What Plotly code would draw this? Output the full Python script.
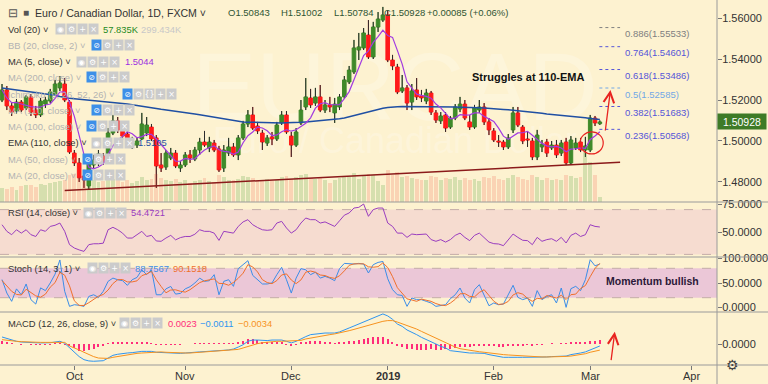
import pandas as pd
import plotly.graph_objects as go

# ---------------- data ----------------
holidays = ["2018-12-25", "2019-01-01"]
calendar = [d for d in pd.bdate_range("2018-09-10", "2019-04-30")
            if d.strftime("%Y-%m-%d") not in holidays]
idx = {d.strftime("%Y-%m-%d"): i for i, d in enumerate(calendar)}

open_ = [1.5200,1.5249,1.5171,1.5146,1.5190,1.5161,1.5215,1.5151,1.5127,1.5180,
         1.5195,1.5229,1.5259,1.5278,1.5190,1.4941,1.4893,1.4829,1.4781,1.4883,
         1.4893,1.4927,1.4907,1.5039,1.5098,1.5054,1.5034,1.4976,1.4980,1.5010,
         1.5039,1.5068,1.5015,1.4883,1.4873,1.4917,1.4941,1.4868,1.4883,1.4932,
         1.4912,1.4956,1.4995,1.4966,1.4990,1.4961,1.4868,1.4941,1.4971,1.4932,
         1.5015,1.5083,1.5127,1.5073,1.5039,1.4990,1.5020,1.5010,1.5088,1.5127,
         1.5024,1.4980,1.5088,1.5166,1.5210,1.5185,1.5215,1.5151,1.5176,1.5137,
         1.5166,1.5215,1.5288,1.5337,1.5444,1.5454,1.5517,1.5410,1.5556,1.5590,
         1.5615,1.5395,1.5361,1.5244,1.5259,1.5190,1.5249,1.5220,1.5195,1.5234,
         1.5137,1.5098,1.5127,1.5068,1.5112,1.5156,1.5180,1.5093,1.5068,1.5151,
         1.5166,1.5093,1.5049,1.5000,1.4995,1.4971,1.5054,1.5137,1.5068,1.5010,
         1.5000,1.4922,1.4971,1.4995,1.4966,1.4980,1.4941,1.4995,1.4893,1.4966,
         1.4995,1.4956,1.4956,1.5112,1.50843]
high = [1.5278,1.5268,1.5185,1.5205,1.5200,1.5224,1.5229,1.5171,1.5210,1.5215,
        1.5254,1.5298,1.5317,1.5307,1.5200,1.4956,1.4917,1.4859,1.4907,1.4932,
        1.4956,1.4941,1.5063,1.5127,1.5117,1.5068,1.5059,1.5020,1.5015,1.5137,
        1.5117,1.5083,1.5029,1.4941,1.4956,1.4966,1.4956,1.4902,1.4946,1.4956,
        1.4971,1.5015,1.5049,1.5020,1.5005,1.4976,1.4980,1.5015,1.4990,1.5029,
        1.5098,1.5151,1.5166,1.5093,1.5054,1.5029,1.5044,1.5093,1.5146,1.5146,
        1.5044,1.5063,1.5200,1.5307,1.5254,1.5259,1.5273,1.5200,1.5215,1.5210,
        1.5229,1.5317,1.5366,1.5493,1.5527,1.5551,1.5590,1.5581,1.5629,1.5654,
        1.5639,1.5420,1.5376,1.5322,1.5273,1.5278,1.5307,1.5249,1.5254,1.5244,
        1.5151,1.5141,1.5141,1.5122,1.5180,1.5215,1.5200,1.5127,1.5176,1.5200,
        1.5185,1.5112,1.5063,1.5029,1.5005,1.5034,1.5166,1.5166,1.5078,1.5044,
        1.5015,1.5054,1.5005,1.5010,1.5000,1.5005,1.5005,1.5015,1.5024,1.5015,
        1.5015,1.5020,1.5127,1.5122,1.51002]
low = [1.5190,1.5151,1.5122,1.5132,1.5141,1.5151,1.5122,1.5112,1.5117,1.5161,
       1.5185,1.5220,1.5244,1.5190,1.4937,1.4878,1.4800,1.4771,1.4766,1.4868,
       1.4878,1.4883,1.4898,1.5029,1.5039,1.5005,1.4995,1.4961,1.4966,1.5005,
       1.5024,1.5000,1.4771,1.4849,1.4859,1.4907,1.4868,1.4849,1.4873,1.4893,
       1.4902,1.4932,1.4971,1.4946,1.4946,1.4849,1.4849,1.4927,1.4922,1.4907,
       1.5005,1.5068,1.5054,1.5034,1.4956,1.4976,1.4980,1.5000,1.5078,1.5034,
       1.4922,1.4971,1.5078,1.5151,1.5161,1.5171,1.5141,1.5137,1.5141,1.5088,
       1.5151,1.5205,1.5278,1.5327,1.5395,1.5444,1.5400,1.5400,1.5532,1.5581,
       1.5385,1.5346,1.5229,1.5234,1.5151,1.5151,1.5200,1.5190,1.5180,1.5127,
       1.5088,1.5083,1.5044,1.5059,1.5102,1.5141,1.5102,1.5054,1.5059,1.5137,
       1.5078,1.5029,1.4995,1.4971,1.4956,1.4961,1.5039,1.5068,1.4985,1.4971,
       1.4907,1.4907,1.4946,1.4922,1.4956,1.4917,1.4927,1.4883,1.4883,1.4956,
       1.4946,1.4922,1.4946,1.5073,1.50784]
close = [1.5249,1.5171,1.5141,1.5190,1.5151,1.5215,1.5141,1.5127,1.5195,1.5200,
         1.5239,1.5278,1.5283,1.5200,1.4946,1.4893,1.4820,1.4810,1.4893,1.4907,
         1.4937,1.4898,1.5039,1.5098,1.5054,1.5024,1.5010,1.4990,1.5000,1.5083,
         1.5078,1.5010,1.4878,1.4868,1.4941,1.4941,1.4878,1.4883,1.4932,1.4917,
         1.4956,1.4995,1.4980,1.4995,1.4956,1.4859,1.4956,1.4971,1.4932,1.5015,
         1.5083,1.5127,1.5063,1.5049,1.4995,1.5015,1.5010,1.5078,1.5127,1.5044,
         1.4980,1.5044,1.5151,1.5215,1.5176,1.5215,1.5151,1.5176,1.5166,1.5180,
         1.5215,1.5298,1.5346,1.5454,1.5459,1.5527,1.5410,1.5556,1.5595,1.5615,
         1.5395,1.5366,1.5239,1.5259,1.5185,1.5244,1.5215,1.5210,1.5234,1.5141,
         1.5102,1.5122,1.5063,1.5112,1.5166,1.5180,1.5112,1.5068,1.5161,1.5166,
         1.5093,1.5054,1.5005,1.4995,1.4971,1.5015,1.5137,1.5078,1.5000,1.5005,
         1.4922,1.5029,1.4985,1.4941,1.4980,1.4932,1.4990,1.4893,1.5005,1.4990,
         1.4956,1.4976,1.5112,1.5088,1.50928]
volume_k = [170,160,180,150,190,200,210,180,220,200,
            230,240,250,260,330,340,300,280,310,260,
            240,250,300,280,260,240,270,230,250,300,
            260,280,340,290,260,250,280,240,260,230,
            250,270,290,250,240,330,300,270,260,280,
            310,300,290,270,260,280,250,270,300,310,
            280,300,320,340,290,280,300,270,230,260,
            290,310,300,350,280,330,340,320,250,200,
            380,330,360,300,310,290,280,260,270,310,
            300,260,290,280,300,270,290,260,280,250,
            300,290,310,280,260,290,330,300,280,260,
            320,300,270,290,260,280,270,330,310,290,
            300,600,480,330,57.835]
ema110 = [1.5259,1.5256,1.5253,1.5250,1.5247,1.5244,1.5241,1.5238,1.5235,1.5232,
          1.5229,1.5223,1.5217,1.5211,1.5208,1.5206,1.5204,1.5202,1.5200,1.5197,
          1.5195,1.5192,1.5190,1.5188,1.5186,1.5183,1.5180,1.5177,1.5174,1.5171,
          1.5167,1.5163,1.5159,1.5155,1.5152,1.5150,1.5147,1.5143,1.5140,1.5136,
          1.5132,1.5128,1.5124,1.5120,1.5116,1.5112,1.5108,1.5104,1.5100,1.5097,
          1.5093,1.5092,1.5091,1.5090,1.5089,1.5089,1.5088,1.5088,1.5088,1.5089,
          1.5089,1.5090,1.5091,1.5093,1.5095,1.5096,1.5098,1.5100,1.5102,1.5106,
          1.5109,1.5112,1.5118,1.5124,1.5130,1.5137,1.5144,1.5151,1.5157,1.5160,
          1.5163,1.5166,1.5167,1.5168,1.5168,1.5169,1.5169,1.5169,1.5169,1.5168,
          1.5168,1.5167,1.5167,1.5166,1.5166,1.5165,1.5165,1.5164,1.5163,1.5162,
          1.5161,1.5160,1.5158,1.5156,1.5154,1.5152,1.5150,1.5147,1.5144,1.5141,
          1.5139,1.5137,1.5135,1.5132,1.5130,1.5128,1.5126,1.5124,1.5122,1.5119,
          1.5116,1.5113,1.5110,1.5108,1.5105]
rsi = [56.5,50.6,47.6,52,49,52,47.6,46,52,50.6,
       55,56,58,50.6,38.7,35.7,34,32.7,38.7,39.5,
       39.5,40,52,54.2,52,49,44.6,44.6,47.6,50.6,
       46,47,42,41.7,44.6,47,43,45,46,46,
       48,52,50.6,50.6,49,42.5,50.6,49.6,49,55,
       59,61,56.5,54,52,51.5,52,58,59.5,53.6,
       49,52,58,62.5,61,61,58,59,57,55,
       60,65,67,71.4,72,75,64,70,71.4,71.4,
       58,55,49,49,45.2,48.2,47.6,47.6,48.2,43.2,
       41.7,43.2,41,43.2,47,49,45.2,42.3,47,49,
       45.2,41,39.6,39.3,37.8,43.2,48.2,45.2,42.6,42.3,
       38.7,45.2,41.7,43.2,44,41.7,45.2,40.2,47,49,
       46,47.6,56.5,55,54.4721]
stoch_k = [57,29.5,12.6,38,26,48,16,7,40,34.5,
           50,68,97,33,2.3,5.7,4.5,2.3,22.6,26,
           20.7,33,53.4,60,56.7,54.7,45.2,56.7,61.4,77,
           67,77,26,26,38,43,27.4,28.8,38,42.5,
           50,60,53.4,54.7,67,26,53.4,56.7,43.2,79.3,
           87.4,95.5,65.6,56.7,48,48,50,67,82,56.7,
           29.5,60,79.3,77,67,72,60,63.5,60,54.7,
           79.3,90,88.7,88.7,90,88.7,70.4,87.4,92,94,
           58.7,36.4,26,24.6,2.3,19.4,16,16,12.6,9.2,
           2.3,3.6,5.7,18,26,39.8,19.4,9.2,36.4,46.6,
           26,3.6,9.2,5.7,7,24.6,45.3,20.7,16,19.4,
           2.3,34.5,16,22.6,26,9.2,39.8,0.3,38.4,43.2,
           34.5,56.7,97.5,85,88.7567]
stoch_d = [55,45,33,26.7,25.5,37.3,30,23.7,21,27.2,
           41.5,50.8,71.7,66,44.1,13.7,4.2,4.2,9.8,17,
           23.1,26.6,35.7,48.8,56.7,57.1,52.2,52.2,54.4,65,
           68.5,73.7,56.7,43,30,35.7,36.1,33.1,31.4,36.4,
           43.5,50.8,54.5,56,58.4,49.2,48.8,45.4,51.1,59.7,
           70,87.4,82.8,72.6,56.8,50.9,48.7,55,66.3,68.6,
           56.1,48.7,56.3,72.1,74.4,72,66.3,65.2,61.2,59.4,
           64.7,74.7,86,89.1,89.1,89.1,83,82.2,83.3,91.1,
           81.6,63,40.4,29,17.6,15.4,12.6,17.1,14.9,12.6,
           8,5,3.9,9.1,16.6,27.9,28.4,22.8,21.7,30.7,
           36.3,25.4,12.9,6.2,7.3,12.4,25.6,30.2,27.3,18.7,
           12.6,18.7,17.6,24.4,21.5,19.3,25,16.4,26.2,27.3,
           38.7,44.8,62.9,79.7,90.1518]
macd = [0.0039,0.0030,0.0022,0.0015,0.0011,0.0011,0.0009,0.0007,0.0006,0.0006,
        0.0007,0.0011,0.0015,0.0004,-0.0022,-0.0044,-0.0070,-0.0087,-0.0094,-0.0096,
        -0.0096,-0.0093,-0.0078,-0.0063,-0.0057,-0.0052,-0.0050,-0.0048,-0.0044,-0.0041,
        -0.0041,-0.0041,-0.0046,-0.0048,-0.0050,-0.0050,-0.0052,-0.0052,-0.0050,-0.0050,
        -0.0046,-0.0044,-0.0043,-0.0041,-0.0039,-0.0039,-0.0035,-0.0033,-0.0028,-0.0017,
        -0.0004,0.0015,0.0022,0.0022,0.0019,0.0019,0.0022,0.0024,0.0022,0.0015,
        0.0006,0.0015,0.0030,0.0041,0.0052,0.0056,0.0061,0.0061,0.0061,0.0061,
        0.0067,0.0076,0.0089,0.0100,0.0111,0.0126,0.0137,0.0148,0.0159,0.0167,
        0.0156,0.0137,0.0111,0.0098,0.0078,0.0067,0.0052,0.0037,0.0026,0.0015,
        0.0000,-0.0013,-0.0022,-0.0037,-0.0041,-0.0043,-0.0046,-0.0050,-0.0050,-0.0050,
        -0.0052,-0.0059,-0.0065,-0.0072,-0.0074,-0.0074,-0.0072,-0.0074,-0.0074,-0.0074,
        -0.0076,-0.0074,-0.0074,-0.0072,-0.0070,-0.0070,-0.0067,-0.0067,-0.0059,-0.0056,
        -0.0050,-0.0044,-0.0031,-0.0022,-0.0011]
signal = [0.0024,0.0020,0.0017,0.0015,0.0013,0.0011,0.0011,0.0009,0.0009,0.0009,
          0.0009,0.0009,0.0011,0.0009,-0.0011,-0.0020,-0.0033,-0.0046,-0.0059,-0.0070,
          -0.0078,-0.0081,-0.0080,-0.0074,-0.0069,-0.0063,-0.0059,-0.0056,-0.0052,-0.0050,
          -0.0048,-0.0046,-0.0044,-0.0044,-0.0046,-0.0048,-0.0050,-0.0050,-0.0050,-0.0050,
          -0.0048,-0.0046,-0.0044,-0.0043,-0.0041,-0.0041,-0.0039,-0.0037,-0.0033,-0.0030,
          -0.0022,-0.0013,-0.0006,0.0002,0.0007,0.0011,0.0013,0.0015,0.0015,0.0017,
          0.0017,0.0019,0.0020,0.0028,0.0033,0.0039,0.0046,0.0050,0.0052,0.0056,
          0.0061,0.0067,0.0074,0.0081,0.0089,0.0096,0.0104,0.0111,0.0119,0.0126,
          0.0130,0.0130,0.0122,0.0113,0.0104,0.0094,0.0083,0.0070,0.0057,0.0044,
          0.0031,0.0019,0.0006,-0.0007,-0.0017,-0.0026,-0.0031,-0.0035,-0.0039,-0.0043,
          -0.0046,-0.0050,-0.0054,-0.0057,-0.0059,-0.0061,-0.0063,-0.0065,-0.0067,-0.0069,
          -0.0070,-0.0072,-0.0072,-0.0072,-0.0072,-0.0070,-0.0070,-0.0069,-0.0067,-0.0063,
          -0.0059,-0.0054,-0.0046,-0.0039,-0.0034]

fib_ratios = ["0.236", "0.382", "0.5", "0.618", "0.764", "0.886"]
fib_prices = [1.50568, 1.51683, 1.52585, 1.53486, 1.54601, 1.55533]
trend_dates = ["2018-09-27", "2019-03-11"]
trend_prices = [1.4758, 1.4896]
month_labels = ["Oct", "Nov", "Dec", "<b>2019</b>", "Feb", "Mar", "Apr"]
legend_values = {"vol": "57.835K", "vol_ma": "299.434K", "ma5": "1.5044", "ema110": "1.5105",
                 "rsi": "54.4721", "k": "88.7567", "d": "90.1518",
                 "hist": "0.0023", "macd": "−0.0011", "signal": "−0.0034"}

n = len(close)
x = list(range(n))
ma5 = pd.Series(close).rolling(5, min_periods=1).mean().tolist()
hist = [m - s for m, s in zip(macd, signal)]

firsts, seen = [], set()
for i, d in enumerate(calendar):
    if (d.year, d.month) not in seen:
        seen.add((d.year, d.month))
        firsts.append(i)
tickpos = firsts[1:8]

# ---------------- styling ----------------
BG = "#fdf2d0"
FONT = "Liberation Sans, Arial, sans-serif"
PW, PH = 717, 365
GREEN, RED = "#3f8a2a", "#ff1a1a"


def px(v):
    return v / PW


def py(v):
    return (PH - v) / PH


fig = go.Figure()

vol_colors = ["rgba(60,150,40,0.2)" if c >= o else "rgba(240,60,40,0.17)"
              for o, c in zip(open_, close)]
fig.add_trace(go.Bar(x=x, y=volume_k, marker=dict(color=vol_colors, line=dict(width=0)),
                     width=0.8, yaxis="y5", hoverinfo="skip", showlegend=False))

fig.add_trace(go.Candlestick(
    x=x, open=open_, high=high, low=low, close=close, yaxis="y",
    increasing=dict(line=dict(color=GREEN, width=1), fillcolor=GREEN),
    decreasing=dict(line=dict(color=RED, width=1), fillcolor=RED),
    whiskerwidth=0, showlegend=False))

wx, wy = [], []
for i in range(n):
    top, bot = max(open_[i], close[i]), min(open_[i], close[i])
    wx += [i, i, None, i, i, None]
    wy += [high[i], top, None, bot, low[i], None]
fig.add_trace(go.Scatter(x=wx, y=wy, mode="lines", line=dict(color="#2b2b2b", width=1),
                         yaxis="y", hoverinfo="skip", showlegend=False))

fig.add_trace(go.Scatter(x=x, y=ema110, mode="lines", line=dict(color="#1f4fa3", width=1.5),
                         yaxis="y", showlegend=False))
fig.add_trace(go.Scatter(x=x, y=ma5, mode="lines", line=dict(color="#a23be0", width=1.2),
                         yaxis="y", showlegend=False))

fig.add_trace(go.Scatter(x=x, y=rsi, mode="lines", line=dict(color="#9a3dbf", width=1),
                         yaxis="y2", showlegend=False))
fig.add_trace(go.Scatter(x=x, y=stoch_k, mode="lines", line=dict(color="#3b8de8", width=1),
                         yaxis="y3", showlegend=False))
fig.add_trace(go.Scatter(x=x, y=stoch_d, mode="lines", line=dict(color="#f0702c", width=1),
                         yaxis="y3", showlegend=False))
fig.add_trace(go.Bar(x=x, y=hist, marker=dict(color="#ff2d7a", line=dict(width=0)), width=0.25,
                     yaxis="y4", showlegend=False))
fig.add_trace(go.Scatter(x=x, y=macd, mode="lines", line=dict(color="#2e95f0", width=1),
                         yaxis="y4", showlegend=False))
fig.add_trace(go.Scatter(x=x, y=signal, mode="lines", line=dict(color="#f7921e", width=1),
                         yaxis="y4", showlegend=False))

axis_common = dict(side="right", showgrid=False, zeroline=False, ticks="outside", ticklen=4,
                   tickcolor="#777", tickfont=dict(family=FONT, size=11, color="#333"),
                   ticklabelstandoff=-2, showline=False, fixedrange=True, automargin=False)
fig.update_layout(
    width=768, height=384, margin=dict(l=0, r=51, t=0, b=19, autoexpand=False),
    paper_bgcolor=BG, plot_bgcolor=BG, showlegend=False, bargap=0, boxgap=0.25,
    boxgroupgap=0,
    xaxis=dict(range=[-0.42, 148.3], anchor="y4", tickvals=tickpos, ticktext=month_labels,
               showticklabels=False, showgrid=False, zeroline=False, ticks="outside",
               ticklen=4, tickcolor="#777", rangeslider=dict(visible=False),
               showline=False, fixedrange=True, automargin=False),
    yaxis=dict(domain=[py(202), 1], range=[1.47024, 1.56878],
               tickvals=[1.48, 1.50, 1.52, 1.54, 1.56],
               ticktext=["1.48000", "1.50000", "1.52000", "1.54000", "1.56000"], **axis_common),
    yaxis2=dict(domain=[py(257), py(202)], range=[27.68, 76.79], tickvals=[50, 75],
                ticktext=["50.0000", "75.0000"], **axis_common),
    yaxis3=dict(domain=[py(312), py(257)], range=[-9.18, 103.06], tickvals=[0, 50, 100],
                ticktext=["0.0000", "50.0000", "100.0000"], **axis_common),
    yaxis4=dict(domain=[0, py(312)], range=[-0.01167, 0.01778], tickvals=[0],
                ticktext=["0.0000"], **axis_common),
    yaxis5=dict(domain=[py(202), 1], overlaying="y", range=[0, 2424], visible=False,
                fixedrange=True),
)

shapes = []
# watermark
shapes.append(dict(type="rect", xref="paper", yref="paper", x0=px(150), x1=px(640),
                   y0=py(125), y1=py(30), line=dict(width=0), fillcolor="rgba(0,0,0,0)",
                   layer="below",
                   label=dict(text="EURCAD", font=dict(family=FONT, size=96,
                                                      color="rgba(255,255,255,0.22)"),
                              textposition="middle center")))
shapes.append(dict(type="rect", xref="paper", yref="paper", x0=px(150), x1=px(640),
                   y0=py(160), y1=py(115), line=dict(width=0), fillcolor="rgba(0,0,0,0)",
                   layer="below",
                   label=dict(text="Euro / Canadian Dollar", font=dict(family=FONT, size=36,
                                                                     color="rgba(255,255,255,0.22)"),
                              textposition="middle center")))
# indicator bands
shapes.append(dict(type="rect", xref="paper", yref="y2", x0=0, x1=1, y0=30, y1=70,
                   fillcolor="#f6dcd0", line=dict(width=0), layer="below"))
shapes.append(dict(type="rect", xref="paper", yref="y3", x0=0, x1=1, y0=20, y1=80,
                   fillcolor="#ebc7d7", line=dict(width=0), layer="below"))
for ref, lv in [("y2", 30), ("y2", 70), ("y3", 20), ("y3", 80)]:
    shapes.append(dict(type="line", xref="paper", yref=ref, x0=0, x1=1, y0=lv, y1=lv,
                       line=dict(color="#c4ada8", width=1, dash="dash"), layer="below"))
# pane separators and axis border
for sy in [202, 257, 312, 365]:
    shapes.append(dict(type="line", xref="paper", yref="paper", x0=0, x1=768 / PW,
                       y0=py(sy), y1=py(sy), line=dict(color="#9a9a9a", width=1)))
shapes.append(dict(type="line", xref="paper", yref="paper", x0=1, x1=1, y0=py(384), y1=1,
                   line=dict(color="#9a9a9a", width=1)))
# trendline
shapes.append(dict(type="line", xref="x", yref="y", x0=idx[trend_dates[0]],
                   x1=idx[trend_dates[1]] + 0.2, y0=trend_prices[0], y1=trend_prices[1],
                   line=dict(color="#8b1a1a", width=1.5)))
# fib levels
fib_colors = ["#5656d8", "#5656d8", "#72a8e6", "#5656d8", "#5656d8", "#808080"]
fx0 = idx["2019-03-05"] - 0.1
fx1 = idx["2019-03-11"] + 0.2
for lv, col in zip(fib_prices, fib_colors):
    shapes.append(dict(type="line", xref="x", yref="y", x0=fx0, x1=fx1, y0=lv, y1=lv,
                       line=dict(color=col, width=1, dash="dot")))
# circle
shapes.append(dict(type="circle", xref="x", yref="y", x0=idx["2019-02-27"] - 0.1,
                   x1=idx["2019-03-05"] + 0.7, y0=1.4937, y1=1.5044,
                   line=dict(color="#e8231f", width=1.2)))
fig.update_layout(shapes=shapes)

# month labels
for tp, lab in zip(tickpos, month_labels):
    fig.add_annotation(xref="x", yref="paper", x=tp, y=py(376), showarrow=False, text=lab,
                       xanchor="center", yanchor="middle",
                       font=dict(family=FONT, size=11, color="#333"))

# fib labels
for r, lv, col in zip(fib_ratios, fib_prices, fib_colors):
    fig.add_annotation(xref="x", yref="y", x=fx1 + 0.6, y=lv, yshift=-6, xanchor="left",
                       yanchor="middle", showarrow=False, text=f"{r}({lv:.5f})",
                       font=dict(family=FONT, size=9.5, color=col))

# arrows
fig.add_annotation(xref="x", yref="y", axref="x", ayref="y",
                   x=idx["2019-03-06"] + 1.2, y=1.5249, ax=idx["2019-03-06"] + 0.1, ay=1.5044,
                   showarrow=True, arrowhead=5, arrowsize=1.6, arrowwidth=1.3, arrowcolor="#e8231f",
                   text="")
fig.add_annotation(xref="x", yref="y4", axref="x", ayref="y4",
                   x=idx["2019-03-06"] + 2.1, y=0.0068, ax=idx["2019-03-06"] + 1.3, ay=-0.0098,
                   showarrow=True, arrowhead=5, arrowsize=1.6, arrowwidth=1.3, arrowcolor="#e8231f",
                   text="")

fig.add_annotation(xref="x", yref="y", x=109.1, y=1.5312, showarrow=False,
                   text="<b>Struggles at 110-EMA</b>",
                   font=dict(family=FONT, size=11, color="#111"))
fig.add_annotation(xref="x", yref="y3", x=134.9, y=54, showarrow=False,
                   text="<b>Momentum bullish</b>",
                   font=dict(family=FONT, size=10.5, color="#2a1838"))

# current price tag
fig.add_annotation(xref="paper", yref="y", x=1, y=close[-1], xanchor="left", xshift=0,
                   showarrow=False, text=f"{close[-1]:.5f}", bgcolor="#3e7b27",
                   width=46, height=13, borderpad=1,
                   font=dict(family=FONT, size=10.5, color="white"))
fig.add_annotation(xref="paper", yref="paper", x=px(741), y=py(376), showarrow=False,
                   text="⚙", font=dict(size=14, color="#444"))


def txt(xp, yp, s, color, size=9.4):
    fig.add_annotation(xref="paper", yref="paper", x=px(xp), y=py(yp), text=s,
                       showarrow=False, xanchor="left", yanchor="middle", borderpad=0,
                       font=dict(family=FONT, size=size, color=color))


GLYPH = {"eye": "◉", "eyeoff": "⊘", "gear": "⚙", "plus": "+", "x": "×", "braces": "{}"}


def icons(x0, yp, kinds):
    for k, kind in enumerate(kinds):
        bg = "#3d8fe8" if kind == "eyeoff" else "#cbcbcb"
        fig.add_annotation(xref="paper", yref="paper", x=px(x0 + 11 * k), y=py(yp),
                           text=GLYPH[kind], showarrow=False, xanchor="left", yanchor="middle",
                           width=9, height=10, bgcolor=bg, borderpad=0,
                           font=dict(family="DejaVu Sans", size=8, color="white"))


GRAY_T, DARK_T = "#b3b3b3", "#333333"
STD = ["eye", "gear", "plus", "x"]
HID = ["eyeoff", "gear", "plus", "x"]
lv_ = legend_values

txt(7, 12.5, "⊟", "#555", 12)
txt(22, 12.5, "■", "#555", 10)
txt(34, 12.5, "Euro / Canadian Dollar, 1D, FXCM ˅", DARK_T, 10.6)
ohlc_col = "#2f5533"
txt(227, 12.5, f"O{open_[-1]:.5f}", ohlc_col, 9.5)
txt(280, 12.5, f"H{high[-1]:.5f}", ohlc_col, 9.5)
txt(333, 12.5, f"L{low[-1]:.5f}", ohlc_col, 9.5)
txt(383, 12.5, f"C{close[-1]:.5f}", ohlc_col, 9.5)
txt(426, 12.5, "+0.00085 (+0.06%)", ohlc_col, 9.5)

rows = [
    (29, "Vol (20) ˅", DARK_T, 55, STD, [(102, lv_["vol"], "#1e8a1e"), (140, lv_["vol_ma"], "#c8c8c8")]),
    (45, "BB (20, close, 2) ˅", GRAY_T, 91, HID, []),
    (61.5, "MA (5, close) ˅", DARK_T, 76, STD, [(124, lv_["ma5"], "#9b30e0")]),
    (77.5, "MA (200, close) ˅", GRAY_T, 86, HID, []),
    (94, "Ichimoku (9, 26, 52, 26) ˅", GRAY_T, 122, ["eyeoff", "gear", "braces", "plus", "x"], []),
    (110, "MA (110, close) ˅", GRAY_T, 91, HID, []),
    (126.5, "MA (100, close) ˅", GRAY_T, 86, HID, []),
    (143, "EMA (110, close) ˅", DARK_T, 91, STD, [(137, lv_["ema110"], "#1f4fa3")]),
    (159, "MA (50, close) ˅", GRAY_T, 82, HID, []),
    (175, "MA (20, close) ˅", GRAY_T, 82, HID, []),
    (212.5, "RSI (14, close) ˅", DARK_T, 83, STD, [(130, lv_["rsi"], "#9a3dbf")]),
    (268.5, "Stoch (14, 3, 1) ˅", DARK_T, 87, STD,
     [(134, lv_["k"], "#3b8de8"), (172, lv_["d"], "#f0702c")]),
    (323, "MACD (12, 26, close, 9) ˅", DARK_T, 119, STD,
     [(167, lv_["hist"], "#ff2d7a"), (199, lv_["macd"], "#2e95f0"), (237, lv_["signal"], "#f7921e")]),
]
for yp, name, col, ix, kinds, vals in rows:
    txt(7, yp, name, col)
    icons(ix, yp, kinds)
    for xv, s, c in vals:
        txt(xv, yp, s, c)

fig.write_html("out.html", config={"displayModeBar": False},
               post_script="document.body.style.margin='0';document.body.style.padding='0';"
                           "document.body.style.overflow='hidden';")
